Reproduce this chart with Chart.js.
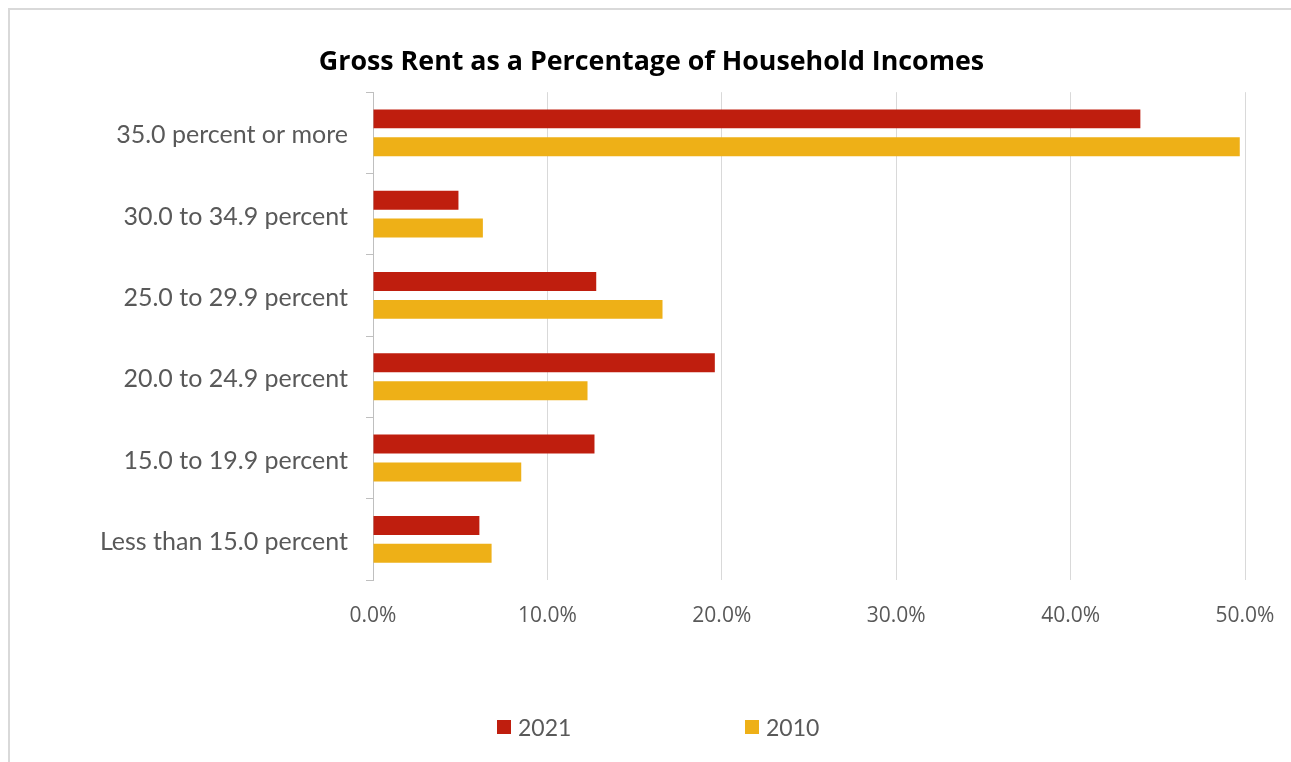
<!DOCTYPE html>
<html>
<head>
<meta charset="utf-8">
<script src="https://cdn.jsdelivr.net/npm/chart.js@4"></script>
<style>
  html, body { margin: 0; padding: 0; background: #fff; overflow: hidden; }
  #wrap { position: relative; width: 1291px; height: 762px; }
  #frame { position: absolute; left: 8px; top: 8px; width: 1400px; height: 900px; border: 2px solid #d9d9d9; box-sizing: border-box; }
  #c { position: absolute; left: 0; top: 0; }
  .lg { position: absolute; top: 713px; display: flex; align-items: center; font-family: Lato, sans-serif; font-size: 23px; color: #595959; }
  .lg span.box { display: inline-block; width: 14px; height: 14px; margin-right: 7px; }
</style>
</head>
<body>
<div id="wrap">
  <div id="frame"></div>
  <canvas id="c" width="1291" height="762"></canvas>
</div>
<script>
const categories = ["35.0 percent or more", "30.0 to 34.9 percent", "25.0 to 29.9 percent", "20.0 to 24.9 percent", "15.0 to 19.9 percent", "Less than 15.0 percent"];
const values2021 = [44.0, 4.9, 12.8, 19.6, 12.7, 6.1];
const values2010 = [49.7, 6.3, 16.6, 12.3, 8.5, 6.8];
const seriesLabels = ["2021", "2010"];
const seriesColors = ["#BF1E0E", "#EEB017"];
const xTicks = [0, 10, 20, 30, 40, 50];

const ctx = document.getElementById('c');
const chart = new Chart(ctx, {
  type: 'bar',
  data: {
    labels: categories,
    datasets: [
      { label: seriesLabels[0], data: values2021, backgroundColor: seriesColors[0], borderWidth: 0 },
      { label: seriesLabels[1], data: values2010, backgroundColor: seriesColors[1], borderWidth: 0 }
    ]
  },
  options: {
    indexAxis: 'y',
    responsive: false,
    animation: false,
    devicePixelRatio: 1,
    categoryPercentage: 0.686,
    barPercentage: 0.68,
    layout: { padding: { top: 46, left: 58, right: 46, bottom: 0 } },
    plugins: {
      legend: { display: false },
      tooltip: { enabled: false },
      title: {
        display: true,
        text: 'Gross Rent as a Percentage of Household Incomes',
        color: '#000',
        font: { family: '"Open Sans", sans-serif', size: 26.8, weight: 'bold', lineHeight: 1.2 },
        padding: { top: 0, bottom: 14 }
      }
    },
    scales: {
      x: {
        min: xTicks[0],
        max: xTicks[xTicks.length - 1],
        afterBuildTicks: (s) => { s.ticks = xTicks.map(v => ({ value: v })); },
        afterFit: (s) => { s.height = 182; s.paddingLeft = 0; s.paddingRight = 0; },
        grid: { color: '#d9d9d9', lineWidth: 1, drawTicks: false },
        border: { display: false },
        ticks: {
          padding: 23,
          color: '#595959',
          font: { family: '"Open Sans", sans-serif', size: 21 },
          callback: (v) => v.toFixed(1) + '%'
        }
      },
      y: {
        afterFit: (s) => { s.width = 315; },
        grid: { display: true, drawOnChartArea: false, drawTicks: true, tickLength: 7, color: '#bfbfbf', offset: true },
        border: { display: true, color: '#bfbfbf', width: 1 },
        ticks: {
          padding: 18,
          labelOffset: 2.5,
          color: '#595959',
          font: { family: 'Lato, sans-serif', size: 25 }
        }
      }
    }
  }
});

// HTML legend built from the datasets
const lgLeft = [497, 745];
chart.data.datasets.forEach((ds, i) => {
  const d = document.createElement('div');
  d.className = 'lg';
  d.style.left = lgLeft[i] + 'px';
  const b = document.createElement('span');
  b.className = 'box';
  b.style.background = ds.backgroundColor;
  const t = document.createElement('span');
  t.textContent = ds.label;
  d.appendChild(b); d.appendChild(t);
  document.getElementById('wrap').appendChild(d);
});
</script>
</body>
</html>
